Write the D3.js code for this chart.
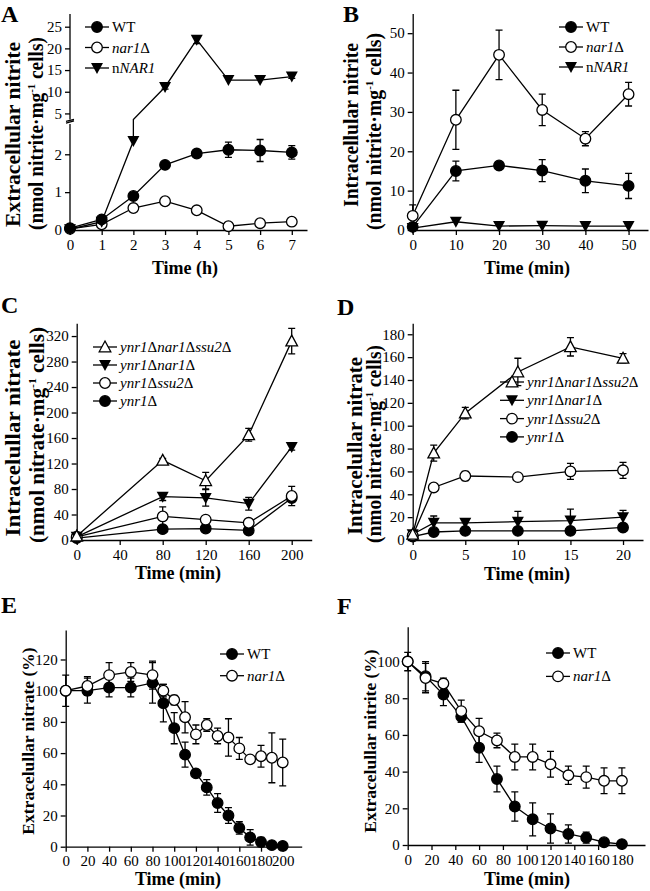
<!DOCTYPE html>
<html>
<head>
<meta charset="utf-8">
<script src="https://cdn.jsdelivr.net/npm/d3@7"></script>
<style>
  body { margin: 0; background: #fff; }
</style>
</head>
<body>
<div id="fig"></div>
<script>
// ---------------- data ----------------
// A: extracellular nitrite (h)
const timeA = [0, 1, 2, 3, 4, 5, 6, 7];
const wtA = [0.05, 0.28, 0.9, 1.72, 2.02, 2.12, 2.1, 2.05];
const wtAErr = [0, 0.03, 0.04, 0.05, 0.04, 0.2, 0.29, 0.18];
const nar1A = [0.03, 0.15, 0.58, 0.76, 0.52, 0.1, 0.18, 0.22];
const nar1AErr = [0, 0, 0.03, 0.03, 0.03, 0.03, 0.03, 0.03];
const nnar1A = [0.02, 0.22, 2.35, 11.1, 22, 12.7, 12.7, 13.5];
const nnar1AErr = [0, 0, 0, 0.5, 0.9, 0, 0, 0.4];

// B: intracellular nitrite (min)
const timeB = [0, 10, 20, 30, 40, 50];
const wtB = [0.8, 15, 16.4, 15.1, 12.5, 11.2];
const wtBErr = [0, 2.5, 0.4, 2.8, 3, 3.2];
const nar1B = [3.6, 28, 44.5, 30.5, 23.2, 34.5];
const nar1BErr = [2.8, 7.5, 6.3, 4, 1.8, 3];
const nnar1B = [0.5, 2.1, 1, 1.1, 1, 1];

// C: intracellular nitrate (min)
const timeC = [0, 80, 120, 160, 200];
const tripleC = [6, 125, 93, 165, 312];
const tripleCErr = [0, 3, 13, 10, 20];
const ynrNarC = [5, 68, 66, 57, 146];
const ynrNarCErr = [0, 6, 13, 10, 5];
const ynrSsuC = [5, 37, 32, 27, 69];
const ynrSsuCErr = [0, 15, 3, 3, 15];
const ynrC = [3, 17, 18, 15, 66];
const ynrCErr = [0, 3, 3, 3, 4];

// D: intracellular nitrate (min)
const timeD = [0, 2, 5, 10, 15, 20];
const tripleD = [5, 76, 111, 147, 169, 159];
const tripleDErr = [0, 7, 5, 12, 8, 4];
const ynrNarD = [5, 15, 15, 16, 17, 20];
const ynrNarDErr = [0, 6, 0, 9, 10, 6];
const ynrSsuD = [4, 46, 56, 55, 60, 61];
const ynrSsuDErr = [0, 0, 4, 0, 7, 7];
const ynrD = [3, 7, 8, 8, 8, 11];
const ynrDErr = [0, 0, 0, 0, 0, 3];

// E: extracellular nitrate (%)
const timeE = [0, 20, 40, 60, 80, 90, 100, 110, 120, 130, 140, 150, 160, 170, 180, 190, 200];
const wtE = [100, 100, 102, 102, 105, 92, 76, 59, 47, 38, 28, 20, 12, 6, 3, 1, 0.5];
const wtEErr = [10, 8, 6, 6, 13, 12, 10, 8, 0, 5, 6, 5, 4, 5, 3, 0, 0];
const nar1E = [100, 103, 110, 112, 110, 100, 94, 83, 72, 78, 71, 70, 63, 56, 58, 57, 54];
const nar1EErr = [0, 6, 8, 6, 9, 4, 3, 10, 6, 4, 5, 12, 7, 0, 7, 16, 15];

// F: extracellular nitrite (%)
const timeF = [0, 15, 30, 45, 60, 75, 90, 105, 120, 135, 150, 165, 180];
const wtF = [100, 92, 82, 70, 53, 36, 21, 14, 9, 6, 4, 1.5, 0.5];
const wtFErr = [5, 8, 6, 3, 8, 7, 8, 9, 8, 5, 3, 0, 0];
const nar1F = [100, 91, 88, 73, 62, 57, 48, 48, 44, 38, 37, 35, 35];
const nar1FErr = [0, 8, 3, 6, 7, 4, 7, 7, 7, 5, 6, 7, 7];

// tick labels
const ticksA = [0, 1, 2, 3, 4, 5, 6, 7];
const yTicksA = [0, 1, 2, 5, 10, 15, 20, 25];
const ticksB = [0, 10, 20, 30, 40, 50];
const yTicksB = [0, 10, 20, 30, 40, 50];
const ticksC = [0, 40, 80, 120, 160, 200];
const yTicksC = [0, 40, 80, 120, 160, 200, 240, 280, 320];
const ticksD = [0, 5, 10, 15, 20];
const yTicksD = [0, 20, 40, 60, 80, 100, 120, 140, 160, 180];
const ticksE = [0, 20, 40, 60, 80, 100, 120, 140, 160, 180, 200];
const yTicksE = [0, 20, 40, 60, 80, 100, 120];
const ticksF = [0, 20, 40, 60, 80, 100, 120, 140, 160, 180];
const yTicksF = [0, 20, 40, 60, 80, 100];

// legend labels: [text, italic]
const lblWT = [["WT", false]];
const lblNar1 = [["nar1", true], ["Δ", false]];
const lblNNAR1 = [["n", false], ["NAR1", true]];
const lblTriple = [["ynr1", true], ["Δ", false], ["nar1", true], ["Δ", false], ["ssu2", true], ["Δ", false]];
const lblYnrNar = [["ynr1", true], ["Δ", false], ["nar1", true], ["Δ", false]];
const lblYnrSsu = [["ynr1", true], ["Δ", false], ["ssu2", true], ["Δ", false]];
const lblYnr = [["ynr1", true], ["Δ", false]];

// ---------------- drawing ----------------
const FONT = "Liberation Serif, Times New Roman, serif";
const svg = d3.select("#fig").append("svg")
  .attr("width", 650)
  .attr("height", 891)
  .attr("font-family", FONT);

const LW = 1.3;

function marker(g, shape, cx, cy) {
  if (shape === "fc" || shape === "oc") {
    g.append("circle")
      .attr("cx", cx).attr("cy", cy).attr("r", 5.3)
      .attr("fill", shape === "fc" ? "#000" : "#fff")
      .attr("stroke", "#000").attr("stroke-width", LW);
  } else if (shape === "dt") {
    g.append("path")
      .attr("transform", `translate(${cx},${cy})`)
      .attr("d", "M-6,-5L6,-5L0,6Z")
      .attr("fill", "#000");
  } else {
    g.append("path")
      .attr("transform", `translate(${cx},${cy})`)
      .attr("d", "M0,-6L5.8,4.8L-5.8,4.8Z")
      .attr("fill", "#fff").attr("stroke", "#000").attr("stroke-width", LW);
  }
}

function series(g, x, y, xs, ys, errs, shape, pathPts) {
  const pts = pathPts || xs.map((t, i) => [t, ys[i]]);
  g.append("path")
    .attr("d", d3.line().x(d => x(d[0])).y(d => y(d[1]))(pts))
    .attr("fill", "none").attr("stroke", "#000").attr("stroke-width", LW);
  if (errs) {
    xs.forEach((t, i) => {
      if (!errs[i]) return;
      const cx = x(t), y1 = y(ys[i] + errs[i]), y2 = y(Math.max(0, ys[i] - errs[i]));
      g.append("path")
        .attr("d", `M${cx},${y1}V${y2}M${cx - 3.5},${y1}H${cx + 3.5}M${cx - 3.5},${y2}H${cx + 3.5}`)
        .attr("fill", "none").attr("stroke", "#000").attr("stroke-width", LW);
    });
  }
  xs.forEach((t, i) => marker(g, shape, x(t), y(ys[i])));
}

function legend(g, lx, ly, dy, items, fs) {
  items.forEach((it, i) => {
    const cy = ly + i * dy;
    g.append("line")
      .attr("x1", lx - 12).attr("x2", lx + 12).attr("y1", cy).attr("y2", cy)
      .attr("stroke", "#000").attr("stroke-width", LW);
    marker(g, it.shape, lx, cy);
    const t = g.append("text")
      .attr("x", lx + 15).attr("y", cy + 5)
      .attr("font-size", fs);
    it.label.forEach(p => t.append("tspan").attr("font-style", p[1] ? "italic" : "normal").text(p[0]));
  });
}

// rotated y title, one text per line (baseline x, center y, optional length, font size)
function yLabel(g, lines) {
  lines.forEach(l => {
    const t = g.append("text")
      .attr("transform", `translate(${l.x},${l.y}) rotate(-90)`)
      .attr("text-anchor", "middle")
      .attr("font-weight", "bold")
      .attr("font-size", l.fs);
    if (l.len) t.attr("textLength", l.len).attr("lengthAdjust", "spacingAndGlyphs");
    if (l.unit) {
      t.append("tspan").text(`(nmol ${l.unit}·mg`);
      t.append("tspan").attr("dy", -8).attr("font-size", l.fs * 0.55).text("-1");
      t.append("tspan").attr("dy", 8).text(" cells)");
    } else {
      t.text(l.text);
    }
  });
}

function panel(o) {
  const g = svg.append("g");
  const x = d3.scaleLinear().domain([0, o.xMax]).range([o.left, o.right]);
  const y = o.yScale || d3.scaleLinear().domain([0, o.yMax]).range([o.bottom, o.top]);

  const xa = g.append("g")
    .attr("transform", `translate(0,${o.bottom})`)
    .call(d3.axisBottom(x).tickValues(o.xTicks).tickSize(5).tickSizeOuter(0).tickPadding(4));
  const ya = g.append("g")
    .attr("transform", `translate(${o.left},0)`)
    .call(d3.axisLeft(y).tickValues(o.yTicks).tickSize(5).tickSizeOuter(0).tickPadding(3));
  [xa, ya].forEach(a => {
    a.attr("font-family", FONT).attr("font-size", 15);
    a.selectAll("path, line").attr("stroke-width", LW);
    a.selectAll("text").attr("fill", "#000");
  });

  g.append("text")
    .attr("x", o.letterX).attr("y", o.letterY)
    .attr("font-size", 24).attr("font-weight", "bold")
    .text(o.letter);
  g.append("text")
    .attr("x", o.xTitleX).attr("y", o.xTitleY)
    .attr("text-anchor", "middle")
    .attr("font-size", 18).attr("font-weight", "bold")
    .text(o.xTitle);
  yLabel(g, o.yTitle);
  return { g, x, y, ya };
}

// ---- A ----
const yA = d3.scaleLinear().domain([0, 2.8, 3.6, 25, 27.9]).range([230, 124, 119.5, 26.7, 14]);
const pA = panel({
  letter: "A", letterX: 1, letterY: 22,
  xMax: 7.48, left: 70, right: 307, bottom: 230, yScale: yA,
  xTicks: ticksA, yTicks: yTicksA,
  xTitle: "Time (h)", xTitleX: 185, xTitleY: 274,
  yTitle: [
    { text: "Extracellular nitrite", x: 20, y: 134.5, len: 185, fs: 20 },
    { unit: "nitrite", x: 43, y: 133.5, len: 193, fs: 20 }
  ]
});
// broken y axis
pA.ya.select(".domain").remove();
pA.g.append("path")
  .attr("d", `M70,${yA(0)}V${yA(2.8)}M70,${yA(3.6)}V${yA(27.9)}`)
  .attr("stroke", "#000").attr("stroke-width", LW);
pA.g.append("path")
  .attr("d", `M66,${yA(2.95)}L74,${yA(3.35)}M66,${yA(3.25)}L74,${yA(3.65)}`)
  .attr("stroke", "#000").attr("stroke-width", LW);
series(pA.g, pA.x, yA, timeA, nar1A, nar1AErr, "oc");
const nnarPath = timeA.map((t, i) => [t, nnar1A[i]]);
nnarPath.splice(3, 0, [2, 3.6]);
series(pA.g, pA.x, yA, timeA, nnar1A, nnar1AErr, "dt", nnarPath);
series(pA.g, pA.x, yA, timeA, wtA, wtAErr, "fc");
legend(pA.g, 97, 27, 20.5, [
  { shape: "fc", label: lblWT },
  { shape: "oc", label: lblNar1 },
  { shape: "dt", label: lblNNAR1 }
], 15);

// ---- B ----
const pB = panel({
  letter: "B", letterX: 343, letterY: 22,
  xMax: 54.5, left: 412.7, right: 648, bottom: 230, top: 13.5, yMax: 55,
  xTicks: ticksB, yTicks: yTicksB,
  xTitle: "Time (min)", xTitleX: 527, xTitleY: 274,
  yTitle: [
    { text: "Intracellular nitrite", x: 358, y: 125, len: 164, fs: 20 },
    { unit: "nitrite", x: 381, y: 131.5, len: 197, fs: 20 }
  ]
});
series(pB.g, pB.x, pB.y, timeB, nnar1B, null, "dt");
series(pB.g, pB.x, pB.y, timeB, wtB, wtBErr, "fc");
series(pB.g, pB.x, pB.y, timeB, nar1B, nar1BErr, "oc");
legend(pB.g, 571, 27, 20, [
  { shape: "fc", label: lblWT },
  { shape: "oc", label: lblNar1 },
  { shape: "dt", label: lblNNAR1 }
], 15);

// ---- C ----
const pC = panel({
  letter: "C", letterX: 1, letterY: 313,
  xMax: 218.6, left: 76.7, right: 311.7, bottom: 540, top: 323.3, yMax: 340,
  xTicks: ticksC, yTicks: yTicksC,
  xTitle: "Time (min)", xTitleX: 178, xTitleY: 579,
  yTitle: [
    { text: "Intracelullar nitrate", x: 20, y: 438, len: 197, fs: 20 },
    { unit: "nitrate", x: 44, y: 435, len: 216, fs: 20 }
  ]
});
series(pC.g, pC.x, pC.y, timeC, ynrC, ynrCErr, "fc");
series(pC.g, pC.x, pC.y, timeC, ynrSsuC, ynrSsuCErr, "oc");
series(pC.g, pC.x, pC.y, timeC, ynrNarC, ynrNarCErr, "dt");
series(pC.g, pC.x, pC.y, timeC, tripleC, tripleCErr, "ut");
legend(pC.g, 105, 347, 18, [
  { shape: "ut", label: lblTriple },
  { shape: "dt", label: lblYnrNar },
  { shape: "oc", label: lblYnrSsu },
  { shape: "fc", label: lblYnr }
], 15);

// ---- D ----
const pD = panel({
  letter: "D", letterX: 337, letterY: 315,
  xMax: 21.9, left: 412.7, right: 643, bottom: 540, top: 323.3, yMax: 189.6,
  xTicks: ticksD, yTicks: yTicksD,
  xTitle: "Time (min)", xTitleX: 527, xTitleY: 580,
  yTitle: [
    { text: "Intracelullar nitrate", x: 361.5, y: 446, len: 178, fs: 20 },
    { unit: "nitrate", x: 381, y: 444, len: 198, fs: 20 }
  ]
});
series(pD.g, pD.x, pD.y, timeD, ynrD, ynrDErr, "fc");
series(pD.g, pD.x, pD.y, timeD, ynrNarD, ynrNarDErr, "dt");
series(pD.g, pD.x, pD.y, timeD, ynrSsuD, ynrSsuDErr, "oc");
series(pD.g, pD.x, pD.y, timeD, tripleD, tripleDErr, "ut");
legend(pD.g, 512, 382, 18.3, [
  { shape: "ut", label: lblTriple },
  { shape: "dt", label: lblYnrNar },
  { shape: "oc", label: lblYnrSsu },
  { shape: "fc", label: lblYnr }
], 15);

// ---- E ----
const pE = panel({
  letter: "E", letterX: 1, letterY: 613,
  xMax: 217.5, left: 65.7, right: 301.7, bottom: 846.7, top: 630, yMax: 138.9,
  xTicks: ticksE, yTicks: yTicksE,
  xTitle: "Time (min)", xTitleX: 178, xTitleY: 885,
  yTitle: [
    { text: "Extracelullar nitrate (%)", x: 34, y: 741, fs: 17.5 }
  ]
});
series(pE.g, pE.x, pE.y, timeE, wtE, wtEErr, "fc");
series(pE.g, pE.x, pE.y, timeE, nar1E, nar1EErr, "oc");
legend(pE.g, 232, 654, 21.7, [
  { shape: "fc", label: lblWT },
  { shape: "oc", label: lblNar1 }
], 15);

// ---- F ----
const pF = panel({
  letter: "F", letterX: 337, letterY: 614,
  xMax: 199.4, left: 407.7, right: 645, bottom: 845, top: 626.7, yMax: 119,
  xTicks: ticksF, yTicks: yTicksF,
  xTitle: "Time (min)", xTitleX: 527, xTitleY: 885,
  yTitle: [
    { text: "Extracelullar nitrite (%)", x: 376, y: 741, fs: 17.5 }
  ]
});
series(pF.g, pF.x, pF.y, timeF, wtF, wtFErr, "fc");
series(pF.g, pF.x, pF.y, timeF, nar1F, nar1FErr, "oc");
legend(pF.g, 558, 653, 23.4, [
  { shape: "fc", label: lblWT },
  { shape: "oc", label: lblNar1 }
], 15);
</script>
</body>
</html>
